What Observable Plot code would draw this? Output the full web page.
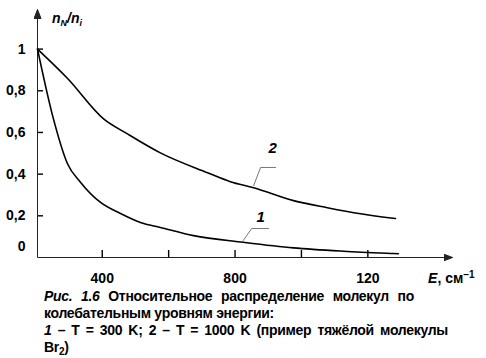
<!DOCTYPE html>
<html><head><meta charset="utf-8">
<script src="https://cdn.jsdelivr.net/npm/d3@7"></script>
<script src="https://cdn.jsdelivr.net/npm/@observablehq/plot@0.6"></script>
<style>
body{margin:0;background:#fff;width:486px;height:358px;overflow:hidden;font-family:"Liberation Sans",Arial,sans-serif;}
#chart svg{display:block;overflow:visible;}
#cap{margin-left:44px;font-weight:bold;font-size:14px;line-height:17px;letter-spacing:-0.3px;color:#000;}
#cap .l1{width:370px;text-align:justify;text-align-last:justify;}
#cap .l3{width:404px;text-align:justify;text-align-last:justify;}
#cap sub{font-size:10px;vertical-align:-3px;line-height:0;}
</style></head>
<body>
<div id="chart"></div>
<div id="cap">
<div class="l1"><i>Рис. 1.6</i> Относительное распределение молекул по</div>
<div>колебательным уровням энергии:</div>
<div class="l3"><i>1</i> – T = 300 K; 2 – T = 1000 K (пример тяжёлой молекулы</div>
<div>Br<sub>2</sub>)</div>
</div>
<script>
// Curve 1: T = 300 K
const energy1 = [205,253,295,335,395,455,515,575,675,825,976,1127,1277,1292];
const ratio1  = [1,0.665,0.451,0.36,0.264,0.211,0.168,0.144,0.105,0.073,0.046,0.030,0.019,0.018];
// Curve 2: T = 1000 K
const energy2 = [205,295,404,476,575,717,786,856,976,1078,1178,1283];
const ratio2  = [1,0.86,0.665,0.593,0.502,0.407,0.364,0.335,0.273,0.239,0.21,0.187];

const xTicks = [400,600,800,1000,1200];
const xTickLabels = ["400","","800","","120"];
const yTicks = [0.2,0.4,0.6,0.8,1];
const yTickLabels = ["0,2","0,4","0,6","0,8","1"];
const zeroLabel = "0";

const curveNames = ["1","2"];
const curveLabelE = [877,913];
const curveLabelR = [0.192,0.523];
const leaderE = [[825,850,901],[856,877,922]];
const leaderR = [[0.082,0.139,0.139],[0.345,0.432,0.432]];

const xDomain = [205,1455];
const yDomain = [0,1.19];

const W = 486, H = 288, mL = 37, mR = 34, mT = 9, mB = 31;
const tickLenX = 7, tickLenY = 6; // pixels
const xPerPx = (xDomain[1]-xDomain[0])/(W-mL-mR);
const yPerPx = (yDomain[1]-yDomain[0])/(H-mT-mB);

const curves = [
  ...energy1.map((e,i)=>({E:e, r:ratio1[i], s:"1"})),
  ...energy2.map((e,i)=>({E:e, r:ratio2[i], s:"2"}))
];
const leaders = leaderE.flatMap((arr,k)=>arr.map((e,i)=>({E:e, r:leaderR[k][i], s:curveNames[k]})));
const labels = curveNames.map((n,i)=>({n, E:curveLabelE[i], r:curveLabelR[i]}));

function filledArrow(color){
  const ns="http://www.w3.org/2000/svg";
  const m=document.createElementNS(ns,"marker");
  m.setAttribute("viewBox","-9 -4 10 8");
  m.setAttribute("markerWidth","10");
  m.setAttribute("markerHeight","8");
  m.setAttribute("markerUnits","userSpaceOnUse");
  m.setAttribute("orient","auto");
  m.setAttribute("refX","0");m.setAttribute("refY","0");
  const p=document.createElementNS(ns,"path");
  p.setAttribute("d","M-9,-3.5L0,0L-9,3.5Z");
  p.setAttribute("fill",color);
  m.appendChild(p);
  return m;
}

const plot = Plot.plot({
  width:W, height:H,
  marginLeft:mL, marginRight:mR, marginTop:mT, marginBottom:mB,
  x:{domain:xDomain},
  y:{domain:yDomain},
  style:{fontFamily:"Liberation Sans, Arial, sans-serif", fontSize:"14px", fontWeight:"bold", color:"#000", background:"#fff"},
  marks:[
    Plot.axisX({ticks:xTicks, tickFormat:d=>xTickLabels[xTicks.indexOf(d)], tickSize:0, tickPadding:16, label:null}),
    Plot.axisY({ticks:yTicks, tickFormat:d=>yTickLabels[yTicks.indexOf(d)], tickSize:0, tickPadding:12, label:null}),
    Plot.ruleX(xTicks, {x:d=>d, y1:()=>0, y2:()=>tickLenX*yPerPx, stroke:"#000", strokeWidth:1.4}),
    Plot.ruleY(yTicks, {y:d=>d, x1:()=>xDomain[0], x2:()=>xDomain[0]+tickLenY*xPerPx, stroke:"#000", strokeWidth:1.4}),
    Plot.text([zeroLabel], {x:()=>xDomain[0], y:()=>0, text:d=>d, dx:-12, dy:-11, textAnchor:"end", fontSize:14, fontWeight:"bold"}),
    Plot.link([0], {x1:()=>xDomain[0], y1:()=>0, x2:()=>xDomain[0], y2:()=>yDomain[1], stroke:"#222", strokeWidth:1, markerEnd:filledArrow}),
    Plot.link([0], {x1:()=>xDomain[0], y1:()=>0, x2:()=>xDomain[1], y2:()=>0, stroke:"#222", strokeWidth:1, markerEnd:filledArrow}),
    Plot.line(leaders, {x:"E", y:"r", z:"s", stroke:"#777", strokeWidth:1}),
    Plot.line(curves, {x:"E", y:"r", z:"s", stroke:"#000", strokeWidth:1.6, curve:"monotone-x"}),
    Plot.text(labels, {x:"E", y:"r", text:"n", fontSize:15, fontWeight:"bold", fontStyle:"italic"})
  ]
});
document.getElementById("chart").appendChild(plot);

// Axis titles with sub/superscripts, positioned through the plot's scales
const sx = plot.scale("x"), sy = plot.scale("y");
const svg = d3.select(plot);
const yt = svg.append("text")
  .attr("x", sx.apply(250)).attr("y", sy.apply(1.125)).attr("text-anchor","start")
  .attr("font-size",14).attr("font-weight","bold").attr("font-style","italic").attr("fill","#000");
yt.append("tspan").text("n");
yt.append("tspan").attr("dy",3).attr("font-size",9).text("N");
yt.append("tspan").attr("dy",-3).text("/n");
yt.append("tspan").attr("dy",3).attr("font-size",9).text("i");

const xt = svg.append("text")
  .attr("x", sx.apply(1383)).attr("y", sy.apply(0)+26).attr("text-anchor","start")
  .attr("font-size",14).attr("font-weight","bold").attr("fill","#000");
xt.append("tspan").attr("font-style","italic").text("E");
xt.append("tspan").text(", см");
xt.append("tspan").attr("dy",-5).attr("font-size",10).text("–1");
</script>
</body></html>
